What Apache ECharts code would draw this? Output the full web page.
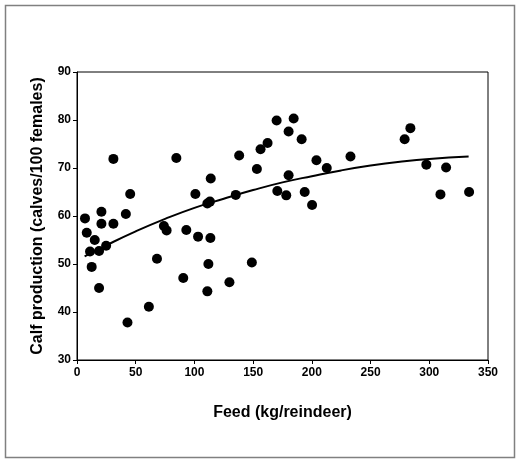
<!DOCTYPE html>
<html>
<head>
<meta charset="utf-8">
<title>Calf production vs feed</title>
<script src="https://cdn.jsdelivr.net/npm/echarts@6/dist/echarts.min.js"></script>
<style>
  html, body { margin: 0; padding: 0; background: #fff; }
  #chart { width: 520px; height: 461px; }
</style>
</head>
<body>
<div id="chart"></div>
<script>
// observed herds: feed (kg/reindeer) and calves per 100 females
const feed = [6.8, 8.3, 11.1, 12.5, 15.1, 18.8, 18.8, 20.8, 20.8, 24.8,
  31.0, 31.0, 41.6, 43.0, 45.3, 61.2, 68.1, 74.0, 76.3, 84.6,
  90.5, 93.1, 100.8, 103.1, 111.0, 111.9, 111.0, 113.2, 113.9, 113.6,
  129.8, 135.2, 138.1, 148.9, 153.2, 156.3, 162.3, 170.0, 170.6, 178.2,
  180.2, 180.2, 184.5, 191.3, 193.9, 200.2, 203.9, 212.7, 232.9, 279.0,
  283.9, 297.5, 309.5, 314.3, 333.9]
const calves = [59.5, 56.5, 52.6, 49.4, 55.0, 52.7, 45.0, 60.9, 58.4, 53.8,
  71.9, 58.4, 60.4, 37.8, 64.6, 41.1, 51.1, 57.9, 57.0, 72.1,
  47.1, 57.1, 64.6, 55.7, 44.3, 50.0, 62.6, 63.0, 67.8, 55.4,
  46.2, 64.4, 72.6, 50.3, 69.8, 73.9, 75.2, 79.9, 65.2, 64.3,
  77.6, 68.5, 80.3, 76.0, 65.0, 62.3, 71.6, 70.0, 72.4, 76.0,
  78.3, 70.7, 64.5, 70.1, 65.0]

// fitted curve
const fitX = [6.5, 25, 50, 75, 100, 125, 150, 175, 200, 225, 250, 275, 300, 333.5]
const fitY = [51.6, 53.9, 56.8, 59.4, 61.7, 63.6, 65.4, 67.0, 68.3, 69.5, 70.5, 71.3, 71.9, 72.4]

const xTicks = [0, 50, 100, 150, 200, 250, 300, 350]
const yTicks = [30, 40, 50, 60, 70, 80, 90]

const font = 'Liberation Sans, Arial, sans-serif'

const chart = echarts.init(document.getElementById('chart'))

const option = {
  animation: false,
  backgroundColor: '#fff',
  graphic: [
    {
      type: 'rect',
      shape: { x: 5.5, y: 5.5, width: 509, height: 452 },
      style: { fill: 'none', stroke: '#808080', lineWidth: 1.5 },
      silent: true
    }
  ],
  grid: {
    left: 77,
    right: 32,
    top: 72,
    bottom: 101,
    show: true,
    borderColor: '#000',
    borderWidth: 1
  },
  xAxis: {
    type: 'value',
    min: xTicks[0],
    max: xTicks[xTicks.length - 1],
    interval: 50,
    name: 'Feed (kg/reindeer)',
    nameLocation: 'middle',
    nameGap: 45,
    nameTextStyle: { fontFamily: font, fontWeight: 'bold', fontSize: 16, color: '#000' },
    axisLine: { show: true, lineStyle: { color: '#000', width: 1 } },
    axisTick: { show: true, length: 4, inside: false, lineStyle: { color: '#000' } },
    axisLabel: { fontFamily: font, fontWeight: 'bold', fontSize: 12, color: '#000', margin: 7 },
    splitLine: { show: false }
  },
  yAxis: {
    type: 'value',
    min: yTicks[0],
    max: yTicks[yTicks.length - 1],
    interval: 10,
    name: 'Calf production (calves/100 females)',
    nameLocation: 'middle',
    nameGap: 31,
    nameTextStyle: { fontFamily: font, fontWeight: 'bold', fontSize: 16, color: '#000' },
    axisLine: { show: true, lineStyle: { color: '#000', width: 1 } },
    axisTick: { show: true, length: 4, inside: false, lineStyle: { color: '#000' } },
    axisLabel: { fontFamily: font, fontWeight: 'bold', fontSize: 12, color: '#000', margin: 6 },
    splitLine: { show: false }
  },
  series: [
    {
      type: 'line',
      data: fitX.map((x, i) => [x, fitY[i]]),
      smooth: true,
      showSymbol: false,
      lineStyle: { color: '#000', width: 2 },
      z: 2
    },
    {
      type: 'scatter',
      data: feed.map((x, i) => [x, calves[i]]),
      symbol: 'circle',
      symbolSize: 10,
      itemStyle: { color: '#000', opacity: 1 },
      z: 3
    }
  ]
}

chart.setOption(option)
</script>
</body>
</html>
